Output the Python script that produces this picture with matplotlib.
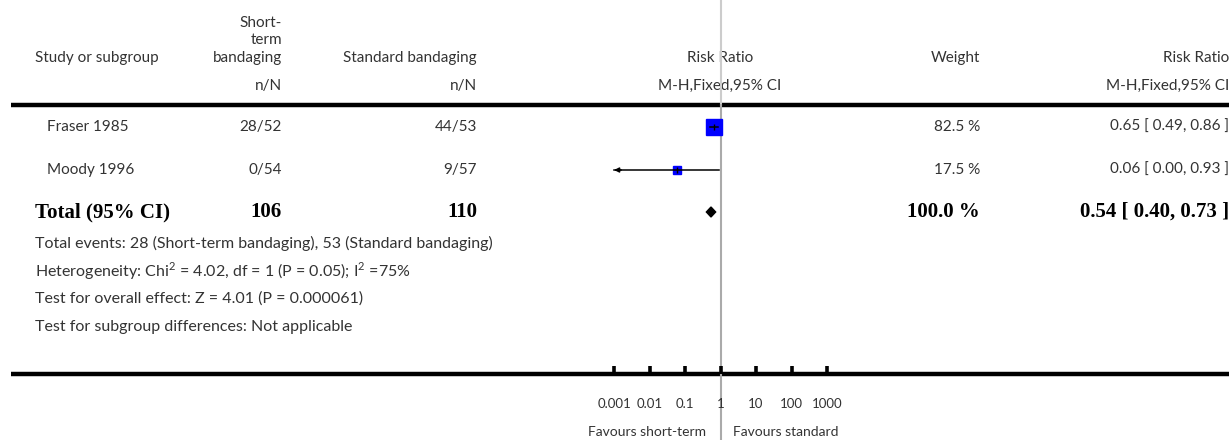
import matplotlib
matplotlib.use("Agg")
import matplotlib.pyplot as plt
from matplotlib.patches import Polygon

# ---------------- data ----------------
studies = ["Fraser 1985", "Moody 1996"]
events_short = [28, 0]
n_short = [52, 54]
events_std = [44, 9]
n_std = [53, 57]
rr = [0.65, 0.06]
ci_lo = [0.49, 0.00]
ci_hi = [0.86, 0.93]
weights = [82.5, 17.5]

total_short = 106
total_std = 110
total_rr = 0.54
total_lo = 0.40
total_hi = 0.73
total_weight = 100.0

footer_lines = [
    "Total events: 28 (Short-term bandaging), 53 (Standard bandaging)",
    "Heterogeneity: Chi$^2$ = 4.02, df = 1 (P = 0.05); I$^2$ =75%",
    "Test for overall effect: Z = 4.01 (P = 0.000061)",
    "Test for subgroup differences: Not applicable",
]
tick_values = [0.001, 0.01, 0.1, 1, 10, 100, 1000]
tick_labels = ["0.001", "0.01", "0.1", "1", "10", "100", "1000"]
left_label = "Favours short-term"
right_label = "Favours standard"

# ---------------- layout ----------------
W, H = 1229, 440
FONT = "Lato"
TXT = "#333333"
FS = 11
plt.rcParams["font.family"] = [FONT, "DejaVu Sans"]
plt.rcParams["mathtext.fontset"] = "custom"
plt.rcParams["mathtext.rm"] = FONT

fig = plt.figure(figsize=(W / 100, H / 100), dpi=100)
ax = fig.add_axes([0, 0, 1, 1])
ax.set_xlim(0, W)
ax.set_ylim(H, 0)
ax.axis("off")

x_study = 35
x_c1 = 282
x_c2 = 477
x_w = 980
x_rr = 1229
axis_y = 374
hdr_line_y = 105
row_y = [127, 170]
total_y = 212
foot_y = [243, 271, 299, 327]

def t(x, y, s, ha="left", **kw):
    kw.setdefault("fontsize", FS)
    kw.setdefault("color", TXT)
    ax.text(x, y, s, ha=ha, va="center", **kw)

# header
t(x_study, 58, "Study or subgroup")
t(x_c1, 23, "Short-", ha="right")
t(x_c1, 40, "term", ha="right")
t(x_c1, 58, "bandaging", ha="right")
t(x_c1, 86, "n/N", ha="right")
t(x_c2, 58, "Standard bandaging", ha="right")
t(x_c2, 86, "n/N", ha="right")
t(720, 58, "Risk Ratio", ha="center")
t(720, 86, "M-H,Fixed,95% CI", ha="center")
t(955, 58, "Weight", ha="center")
t(x_rr, 58, "Risk Ratio", ha="right")
t(x_rr, 86, "M-H,Fixed,95% CI", ha="right")

ax.plot([11, W], [hdr_line_y, hdr_line_y], color="black", lw=3.2, solid_capstyle="butt")
ax.plot([11, W], [axis_y, axis_y], color="black", lw=3.2, solid_capstyle="butt")

# study rows
for i, name in enumerate(studies):
    y = row_y[i]
    t(x_study + 12, y, name)
    t(x_c1, y, f"{events_short[i]}/{n_short[i]}", ha="right")
    t(x_c2, y, f"{events_std[i]}/{n_std[i]}", ha="right")
    t(x_w, y, f"{weights[i]:.1f} %", ha="right")
    t(x_rr, y, f"{rr[i]:.2f} [ {ci_lo[i]:.2f}, {ci_hi[i]:.2f} ]", ha="right")

# total row
bold = dict(fontsize=15, fontweight="bold", color="black", family="Liberation Serif")
t(x_study, total_y, "Total (95% CI)", **bold)
t(x_c1, total_y, f"{total_short}", ha="right", **bold)
t(x_c2, total_y, f"{total_std}", ha="right", **bold)
t(x_w, total_y, f"{total_weight:.1f} %", ha="right", **bold)
t(x_rr, total_y, f"{total_rr:.2f} [ {total_lo:.2f}, {total_hi:.2f} ]", ha="right", **bold)

for y, s in zip(foot_y, footer_lines):
    t(x_study, y, s, fontsize=11.5)

# ---------------- forest axes ----------------
fx = fig.add_axes([614 / W, (H - axis_y) / H, (827 - 614) / W, axis_y / H])
fx.set_xscale("log")
xmin, xmax = tick_values[0], tick_values[-1]
fx.set_xlim(xmin, xmax)
fx.set_ylim(axis_y, 0)
fx.patch.set_alpha(0)
for sp in fx.spines.values():
    sp.set_visible(False)
fx.set_yticks([])
fx.set_xticks(tick_values)
fx.set_xticklabels(tick_labels)
fx.minorticks_off()
fx.tick_params(axis="x", direction="in", length=6, width=2.6, color="black",
               labelcolor=TXT, labelsize=9.5, pad=17)

# centre line
fx.plot([1, 1], [0, hdr_line_y], color="#cccccc", lw=1.5, clip_on=False, zorder=1)
fx.plot([1, 1], [hdr_line_y, H], color="#aaaaaa", lw=1.5, clip_on=False, zorder=1)

for i in range(len(studies)):
    y = row_y[i]
    side = 6 + 0.12 * weights[i]
    fx.plot([rr[i]], [y], marker="s", ms=side * 0.72, mfc="#0000ff", mec="#0000ff",
            ls="none", zorder=3, clip_on=False)
    lo = max(ci_lo[i], xmin)
    fx.plot([lo, ci_hi[i]], [y, y], color="black", lw=1.1, zorder=4, clip_on=False)
    fx.plot([rr[i]], [y], marker="|", ms=4, color="black", mew=1, zorder=4)
    if ci_lo[i] < xmin:
        fx.annotate("", xy=(xmin, y), xytext=(xmin * 1.6, y),
                    arrowprops=dict(arrowstyle="-|>", color="black", lw=1.1,
                                    mutation_scale=7, shrinkA=0, shrinkB=0),
                    annotation_clip=False, zorder=4)

dh = 5
diamond = Polygon([(total_lo, total_y), (total_rr, total_y - dh),
                   (total_hi, total_y), (total_rr, total_y + dh)],
                  closed=True, facecolor="black", edgecolor="black", zorder=4)
fx.add_patch(diamond)

t(706, 432, left_label, ha="right", fontsize=10)
t(733, 432, right_label, ha="left", fontsize=10)

fig.savefig("out.png", dpi=100)
